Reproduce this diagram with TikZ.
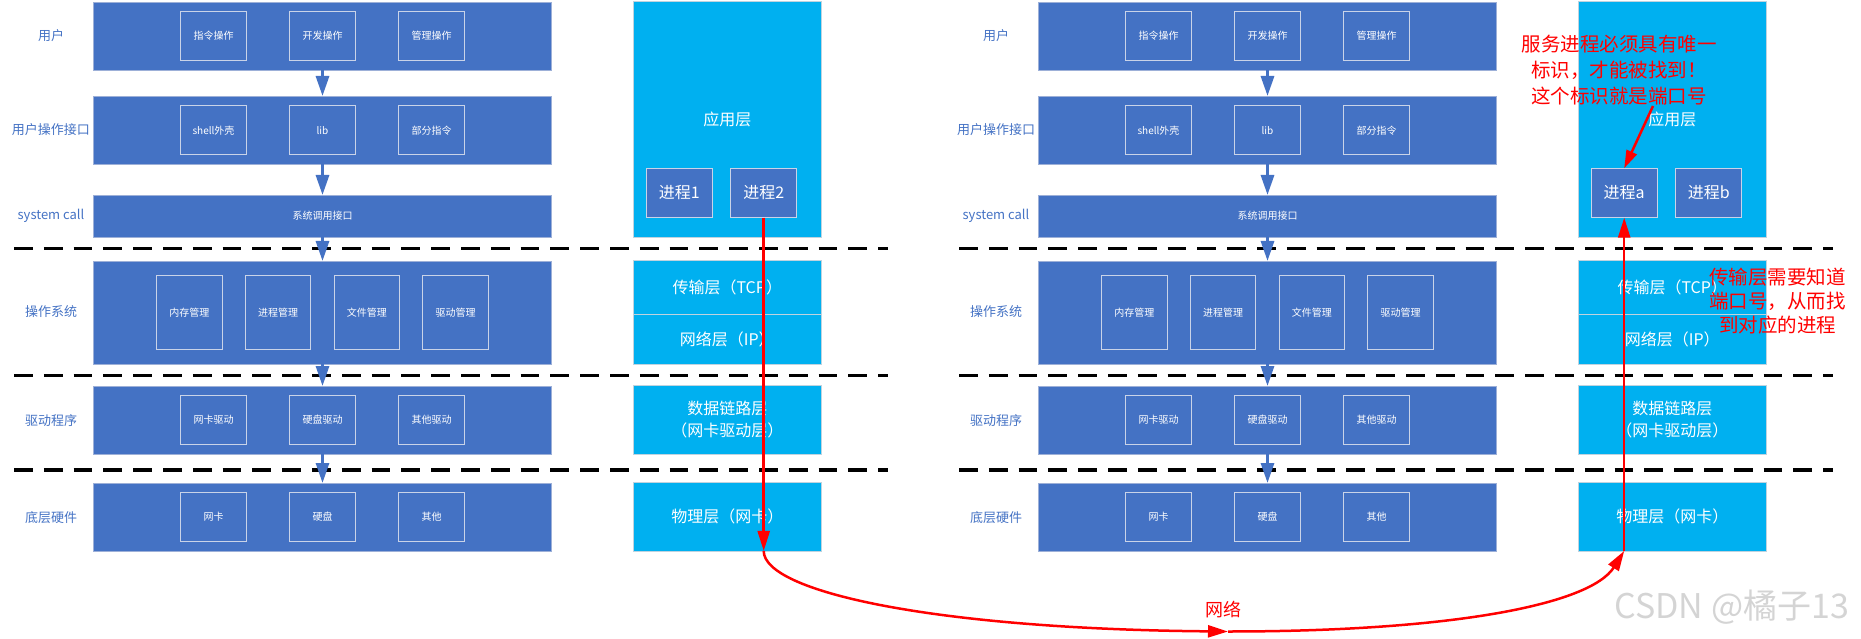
\documentclass[tikz,border=0pt]{standalone}
\usepackage{fontspec}
\setmainfont{Noto Sans CJK SC}
\usetikzlibrary{arrows.meta,calc}
\definecolor{osblue}{HTML}{4472C4}
\definecolor{netcyan}{HTML}{00B0F0}
\definecolor{boxedge}{HTML}{9DB0D8}
\definecolor{inneredge}{HTML}{C9D3E8}
\definecolor{cyanedge}{HTML}{BFD3DF}
\definecolor{wmgray}{HTML}{D4D4D4}
\begin{document}
\begin{tikzpicture}[x=1pt,y=-1pt,
  bigbox/.style={draw=boxedge, line width=0.8pt, fill=osblue, inner sep=0pt, outer sep=0pt, minimum width=458pt, text=white, font=\fontsize{10}{12}\selectfont},
  smallbox/.style={draw=inneredge, line width=1pt, fill=osblue, inner sep=0pt, outer sep=0pt, text=white, font=\fontsize{10}{12}\selectfont, minimum width=66pt, minimum height=49pt},
  osbox/.style={smallbox, minimum width=65.6pt, minimum height=74pt},
  layerlabel/.style={text=osblue, font=\fontsize{13}{15}\selectfont},
  netbox/.style={draw=cyanedge, line width=0.8pt, fill=netcyan, inner sep=0pt, outer sep=0pt, minimum width=188pt, text=white, font=\fontsize{16}{22}\selectfont, align=center},
  procbox/.style={draw=inneredge, line width=1pt, fill=osblue, inner sep=0pt, outer sep=0pt, minimum width=66pt, minimum height=49.4pt, text=white, font=\fontsize{16}{18}\selectfont},
  sepline/.style={line width=3.3pt, dash pattern=on 18.7pt off 11.1pt},
  flow/.style={draw=osblue, line width=3pt, -{Triangle[length=20pt,width=13pt]}},
  redline/.style={draw=red, line width=2.5pt},
  redtip/.style={-{Triangle[length=20pt,width=12pt]}},
  note/.style={text=red, font=\fontsize{19.5}{26}\selectfont, align=center},
]
\useasboundingbox (0,0) rectangle (1861,639);

\foreach \s/\dx/\pa/\pb in {L/0/进程1/进程2, R/945/进程a/进程b}{
\begin{scope}[xshift=\dx pt]
  % OS stack boxes
  \node[bigbox, minimum height=68pt] (user\s) at (322.5,36) {};
  \node[bigbox, minimum height=68pt] (uapi\s) at (322.5,130) {};
  \node[bigbox, minimum height=42pt] (sys\s) at (322.5,216) {系统调用接口};
  \node[bigbox, minimum height=103pt] (os\s) at (322.5,312.5) {};
  \node[bigbox, minimum height=68pt] (drv\s) at (322.5,420) {};
  \node[bigbox, minimum height=68pt] (hw\s) at (322.5,517) {};
  % inner boxes
  \node[smallbox] (u1\s) at (213.5,36) {指令操作};
  \node[smallbox] (u2\s) at (322.5,36) {开发操作};
  \node[smallbox] (u3\s) at (431.5,36) {管理操作};
  \node[smallbox] (a1\s) at (213.5,130.3) {shell外壳};
  \node[smallbox] (a2\s) at (322.5,130.3) {lib};
  \node[smallbox] (a3\s) at (431.5,130.3) {部分指令};
  \node[osbox] (o1\s) at (189.3,312.3) {内存管理};
  \node[osbox] (o2\s) at (278.1,312.3) {进程管理};
  \node[osbox] (o3\s) at (366.9,312.3) {文件管理};
  \node[osbox] (o4\s) at (455.7,312.3) {驱动管理};
  \node[smallbox] (d1\s) at (213.5,419.8) {网卡驱动};
  \node[smallbox] (d2\s) at (322.5,419.8) {硬盘驱动};
  \node[smallbox] (d3\s) at (431.5,419.8) {其他驱动};
  \node[smallbox] (h1\s) at (213.5,517) {网卡};
  \node[smallbox] (h2\s) at (322.5,517) {硬盘};
  \node[smallbox] (h3\s) at (431.5,517) {其他};
  % labels
  \node[layerlabel] (lu\s) at (51,36) {用户};
  \node[layerlabel] (la\s) at (51,130) {用户操作接口};
  \node[layerlabel] (ls\s) at (51,216) {system call};
  \node[layerlabel] (lo\s) at (51,312) {操作系统};
  \node[layerlabel] (ld\s) at (51,420.5) {驱动程序};
  \node[layerlabel] (lh\s) at (51,517.5) {底层硬件};
  % network stack
  \node[netbox, minimum height=235.5pt] (app\s) at (727.3,119.25) {应用层};
  \node[netbox, minimum height=53.3pt] (tcp\s) at (727.3,287.35) {传输层（TCP）};
  \node[netbox, minimum height=50pt] (ip\s) at (727.3,339) {网络层（IP）};
  \node[netbox, minimum height=68.7pt] (dl\s) at (727.3,419.7) {数据链路层\\（网卡驱动层）};
  \node[netbox, minimum height=68.3pt] (phy\s) at (727.3,516.8) {物理层（网卡）};
  \node[procbox] (p1\s) at (679.2,193) {\pa};
  \node[procbox] (p2\s) at (763.7,193) {\pb};
  % separators
  \draw[sepline] (14,248.7) -- (888,248.7);
  \draw[sepline] (14,375.7) -- (888,375.7);
  \draw[sepline] (14,470) -- (888,470);
  % flow arrows
  \draw[flow] (user\s.south) -- (uapi\s.north);
  \draw[flow] (uapi\s.south) -- (sys\s.north);
  \draw[flow] (sys\s.south) -- (os\s.north);
  \draw[flow] (os\s.south) -- (drv\s.north);
  \draw[flow] (drv\s.south) -- (hw\s.north);
\end{scope}
}

% red path through the network
\coordinate (phyLb) at (p2L.south |- phyL.south);
\coordinate (phyRb) at (p1R.south |- phyR.south);
\coordinate (netmid) at (1228,631.5);
\draw[redline, redtip] (p2L.south) -- (phyLb);
\draw[redline, redtip] (phyLb) .. controls (763.7,592) and (935,629) .. (netmid);
\draw[redline, redtip] (netmid) .. controls (1450,631.5) and (1590,605) .. (phyRb);
\draw[redline, redtip] (phyRb) -- (p1R.south);
\node[text=red, font=\fontsize{18}{20}\selectfont] (netlbl) at (1223,610) {网络};

% annotations
\node[note] (note1) at (1619,70.5) {服务进程必须具有唯一\\标识，才能被找到！\\这个标识就是端口号};
\coordinate (note1tail) at (1653,106);
\draw[redline, -{Triangle[length=18pt,width=11pt]}] (note1tail) -- (p1R.north);
\node[note, font=\fontsize{19.5}{24.2}\selectfont] (note2) at (1777.7,301) {传输层需要知道\\端口号，从而找\\到对应的进程};

% watermark
\node[text=wmgray, font=\fontsize{34}{36}\selectfont] (wmk) at (1731.7,606.7) {CSDN @橘子13};
\end{tikzpicture}
\end{document}
